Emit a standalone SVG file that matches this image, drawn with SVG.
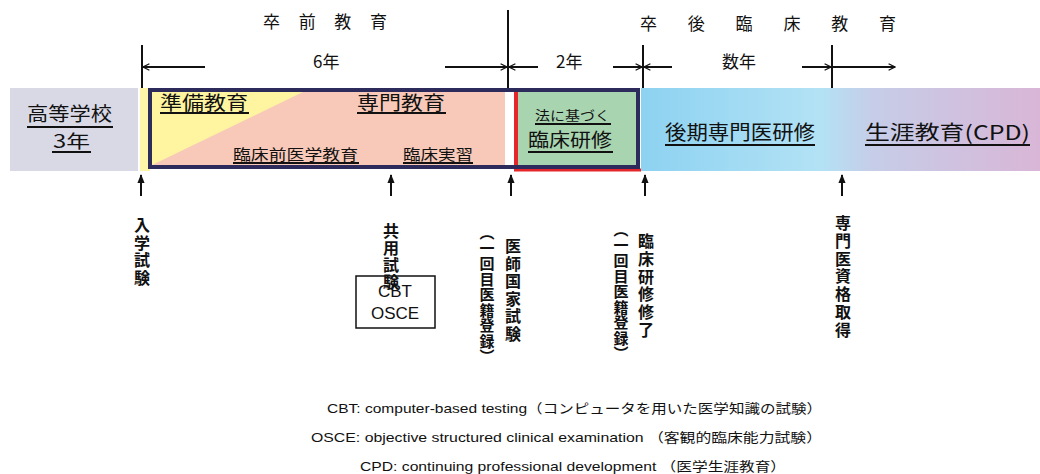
<svg xmlns="http://www.w3.org/2000/svg" width="1040" height="474" viewBox="0 0 1040 474">
<defs>
<style>
.t{font-family:"Noto Sans CJK JP","Liberation Sans",sans-serif;fill:#111;}
.e{font-family:"Liberation Sans","Noto Sans CJK JP",sans-serif;fill:#111;}
.ln{stroke:#111;stroke-width:2;fill:none;}
.ul{stroke:#111;stroke-width:2;}
.v{font-family:"Noto Sans CJK JP",sans-serif;fill:#111;writing-mode:vertical-rl;font-weight:bold;}
</style>
<marker id="oa" viewBox="0 0 10 10" refX="9" refY="5" markerWidth="8" markerHeight="8" orient="auto" markerUnits="userSpaceOnUse">
<path d="M1,1 L9,5 L1,9" fill="none" stroke="#111" stroke-width="1.6"/>
</marker>
<marker id="ua" viewBox="0 0 10 10" refX="9" refY="5" markerWidth="9" markerHeight="9" orient="auto" markerUnits="userSpaceOnUse">
<path d="M0,1 L10,5 L0,9 Z" fill="#111"/>
</marker>
<linearGradient id="gb" x1="0" y1="0" x2="1" y2="0">
<stop offset="0" stop-color="#8dd2f1"/>
<stop offset="0.45" stop-color="#b3e2f5"/>
<stop offset="0.58" stop-color="#c6cde8"/>
<stop offset="1" stop-color="#d9b6d7"/>
</linearGradient>
</defs>

<!-- headers -->
<g id="header-pre">
<text class="t" x="263" y="28" font-size="17" textLength="124" lengthAdjust="spacing">卒前教育</text>
<text class="t" x="313" y="68" font-size="17">6年</text>
</g>
<g id="header-post">
<text class="t" x="640" y="30" font-size="17" textLength="256" lengthAdjust="spacing">卒後臨床教育</text>
<text class="t" x="556" y="68" font-size="17">2年</text>
<text class="t" x="722" y="68" font-size="17">数年</text>
</g>

<g id="connectors">
<line class="ln" x1="142" y1="45" x2="142" y2="88"/>
<line class="ln" x1="508" y1="10" x2="508" y2="88"/>
<line class="ln" x1="643" y1="45" x2="643" y2="88"/>
<line class="ln" x1="832" y1="45" x2="832" y2="88"/>
<line class="ln" x1="205" y1="67" x2="143" y2="67" marker-end="url(#oa)"/>
<line class="ln" x1="445" y1="67" x2="507" y2="67" marker-end="url(#oa)"/>
<line class="ln" x1="538" y1="67" x2="509" y2="67" marker-end="url(#oa)"/>
<line class="ln" x1="613" y1="67" x2="642" y2="67" marker-end="url(#oa)"/>
<line class="ln" x1="672" y1="67" x2="644" y2="67" marker-end="url(#oa)"/>
<line class="ln" x1="802" y1="67" x2="831" y2="67" marker-end="url(#oa)"/>
<line class="ln" x1="833" y1="67" x2="895" y2="67" marker-end="url(#oa)"/>
<line class="ln" x1="141" y1="196" x2="141" y2="175" marker-end="url(#ua)"/>
<line class="ln" x1="391" y1="196" x2="391" y2="175" marker-end="url(#ua)"/>
<line class="ln" x1="511" y1="196" x2="511" y2="175" marker-end="url(#ua)"/>
<line class="ln" x1="645" y1="196" x2="645" y2="175" marker-end="url(#ua)"/>
<line class="ln" x1="842" y1="196" x2="842" y2="175" marker-end="url(#ua)"/>
</g>

<g id="highschool">
<rect x="10" y="88" width="128" height="83" fill="#d9d9e6"/>
<text class="t" x="27" y="121" font-size="19" textLength="85" lengthAdjust="spacingAndGlyphs">高等学校</text>
<line class="ul" x1="27" y1="127" x2="113" y2="127"/>
<text class="t" x="53" y="148" font-size="18" textLength="37" lengthAdjust="spacingAndGlyphs">3年</text>
<line class="ul" x1="52" y1="152" x2="91" y2="152"/>
</g>

<g id="undergrad">
<rect x="140" y="88" width="10" height="83" fill="#fff5a8"/>
<rect x="150" y="90" width="490" height="78" fill="#f8c9b8"/>
<polygon points="150,90 307,90 150,166" fill="#fff5a0"/>
<rect x="505" y="90" width="9" height="78" fill="#ffffff"/>
<text class="t" x="160" y="110" font-size="19" textLength="88" lengthAdjust="spacingAndGlyphs">準備教育</text>
<line class="ul" x1="160" y1="113" x2="249" y2="113"/>
<text class="t" x="357" y="110" font-size="19" textLength="88" lengthAdjust="spacingAndGlyphs">専門教育</text>
<line class="ul" x1="357" y1="113" x2="446" y2="113"/>
<text class="t" x="233" y="160" font-size="15" textLength="125" lengthAdjust="spacingAndGlyphs">臨床前医学教育</text>
<line class="ul" x1="233" y1="163" x2="359" y2="163"/>
<text class="t" x="403" y="160" font-size="15" textLength="70" lengthAdjust="spacingAndGlyphs">臨床実習</text>
<line class="ul" x1="403" y1="163" x2="473" y2="163"/>
</g>

<g id="residency">
<rect x="514" y="90" width="124" height="80" fill="#a8d4b0"/>
<line x1="516" y1="90" x2="516" y2="170" stroke="#e5262a" stroke-width="4"/>
<line x1="514" y1="170" x2="641" y2="170" stroke="#e5262a" stroke-width="3"/>
<text class="t" x="535" y="120" font-size="13" textLength="75" lengthAdjust="spacingAndGlyphs">法に基づく</text>
<line class="ul" x1="535" y1="124" x2="611" y2="124"/>
<text class="t" x="528" y="147" font-size="19" textLength="84" lengthAdjust="spacingAndGlyphs">臨床研修</text>
<line class="ul" x1="528" y1="152" x2="613" y2="152"/>
</g>

<rect x="150" y="90" width="488" height="77" fill="none" stroke="#2d2b5c" stroke-width="4"/>

<g id="postgrad">
<rect x="641" y="88" width="399" height="83" fill="url(#gb)"/>
<text class="t" x="665" y="140" font-size="20" textLength="150" lengthAdjust="spacingAndGlyphs">後期専門医研修</text>
<line class="ul" x1="665" y1="145" x2="815" y2="145"/>
<text class="t" x="865" y="140" font-size="20" textLength="165" lengthAdjust="spacingAndGlyphs">生涯教育(CPD)</text>
<line class="ul" x1="865" y1="145" x2="1030" y2="145"/>
</g>

<g id="entrance-exam">
<text class="v" x="142" y="217" font-size="16" letter-spacing="1.5">入学試験</text>
</g>

<g id="common-exam">
<rect x="356" y="276" width="79" height="52" fill="#fff" stroke="#111" stroke-width="1.5"/>
<text class="e" x="395" y="297" font-size="17" text-anchor="middle">CBT</text>
<text class="e" x="395" y="319" font-size="17" text-anchor="middle">OSCE</text>
<text class="v" x="391" y="223" font-size="16" letter-spacing="1">共用試験</text>
</g>

<g id="national-exam">
<text class="v" x="513" y="238" font-size="16" letter-spacing="1.5">医師国家試験</text>
<text class="v" x="487" y="225" font-size="15" letter-spacing="0.5">（一回目医籍登録）</text>
</g>

<g id="residency-end">
<text class="v" x="646" y="233" font-size="16" letter-spacing="1.8">臨床研修修了</text>
<text class="v" x="621" y="222" font-size="15" letter-spacing="0.5">（一回目医籍登録）</text>
</g>

<g id="specialist">
<text class="v" x="843" y="215" font-size="16" letter-spacing="1.8">専門医資格取得</text>
</g>

<g id="legend" xml:space="preserve">
<text class="e" x="327" y="413" font-size="13" textLength="495" lengthAdjust="spacingAndGlyphs">CBT:  computer-based  testing（コンピュータを用いた医学知識の試験）</text>
<text class="e" x="311" y="442" font-size="13" textLength="511" lengthAdjust="spacingAndGlyphs">OSCE: objective  structured  clinical examination  （客観的臨床能力試験）</text>
<text class="e" x="360" y="471" font-size="13" textLength="426" lengthAdjust="spacingAndGlyphs">CPD: continuing  professional  development  （医学生涯教育）</text>
</g>
</svg>
